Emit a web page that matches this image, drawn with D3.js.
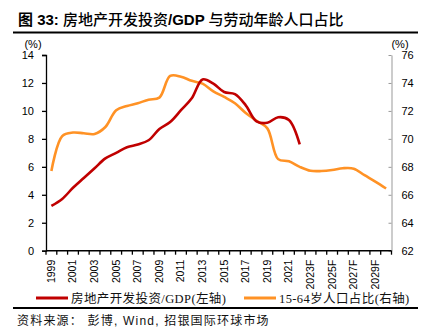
<!DOCTYPE html>
<html>
<head>
<meta charset="utf-8">
<script src="https://cdn.jsdelivr.net/npm/d3@7"></script>
<style>
  body { margin: 0; background: #fff; }
  svg { display: block; font-family: "Liberation Sans", Arial, "Noto Sans CJK SC", sans-serif; }
</style>
</head>
<body>
<svg id="chart" width="433" height="336"></svg>
<script>
// ─── data ───
const years = d3.range(1999, 2031).map(y => y >= 2023 ? y + 'F' : String(y));
const reInvestGdp = [3.2, 3.7, 4.5, 5.2, 5.9, 6.6, 7.0, 7.4, 7.6, 7.9, 8.7, 9.2,
  10.05, 10.9, 12.25, 11.95, 11.35, 11.2, 10.4, 9.25, 9.15, 9.55, 9.35, 7.6];
const workingAge = [67.7, 70.2, 70.45, 70.4, 70.35, 70.85, 72.05, 72.35, 72.55, 72.8, 72.95, 74.5,
  74.45, 74.15, 73.95, 73.4, 73.0, 72.55, 71.85, 71.3, 70.75, 68.55,
  68.4, 68.0, 67.72, 67.7, 67.77, 67.9, 67.87, 67.4, 66.94, 66.45];
const leftTicks = d3.range(0, 15, 2);
const rightTicks = d3.range(62, 77, 2);

const svg = d3.select('#chart');
const m = { l: 46, r: 391.5, t: 55, b: 250.7 };

// ─── header / footer ───
const title = svg.append('text').attr('x', 18).attr('y', 25)
  .attr('font-size', 15)
  .attr('font-family', '"Liberation Sans", "Noto Sans CJK SC", sans-serif');
title.append('tspan').attr('font-weight', 'bold').text('图 33: ');
title.append('tspan').attr('font-weight', 500).text('房地产开发投资');
title.append('tspan').attr('font-weight', 'bold').text('/GDP ');
title.append('tspan').attr('font-weight', 500).text('与劳动年龄人口占比');

svg.append('line').attr('x1', 13).attr('x2', 418).attr('y1', 32.5).attr('y2', 32.5)
  .attr('stroke', '#000').attr('stroke-width', 2);
svg.append('line').attr('x1', 13).attr('x2', 418).attr('y1', 308).attr('y2', 308)
  .attr('stroke', '#000').attr('stroke-width', 2);
svg.append('text').attr('x', 17).attr('y', 325).attr('font-size', 12)
  .attr('letter-spacing', 1.2).attr('fill', '#111')
  .attr('font-family', '"Liberation Sans", "Noto Sans CJK SC", sans-serif')
  .text('资料来源： 彭博, Wind, 招银国际环球市场');

// ─── scales ───
const x = d3.scaleBand().domain(years).range([m.l, m.r]);
const yL = d3.scaleLinear().domain([0, 14]).range([m.b, m.t]);
const yR = d3.scaleLinear().domain([62, 76]).range([m.b, m.t]);

// left axis
const axL = svg.append('g').attr('transform', `translate(${m.l},0)`)
  .call(d3.axisLeft(yL).tickValues(leftTicks).tickSize(4).tickPadding(8));
axL.select('.domain').attr('stroke', '#000').attr('stroke-width', 1.3);
axL.selectAll('.tick line').attr('stroke', '#000').attr('stroke-width', 1.3);
axL.selectAll('text').attr('font-size', 11).attr('fill', '#000')
  .attr('font-family', '"Liberation Sans", Arial, sans-serif');

// right axis
const axR = svg.append('g').attr('transform', `translate(${m.r},0)`)
  .call(d3.axisRight(yR).tickValues(rightTicks).tickSizeInner(-3).tickSizeOuter(0).tickPadding(10));
axR.select('.domain').attr('stroke', '#999');
axR.selectAll('.tick line').attr('stroke', '#999');
axR.selectAll('text').attr('font-size', 11).attr('fill', '#000')
  .attr('font-family', '"Liberation Sans", Arial, sans-serif');

svg.append('text').attr('x', 33).attr('y', 48).attr('text-anchor', 'middle')
  .attr('font-size', 11).text('(%)');
svg.append('text').attr('x', 400).attr('y', 48).attr('text-anchor', 'middle')
  .attr('font-size', 11).text('(%)');

// x axis: ticks on category boundaries
const axX = svg.append('g').attr('transform', `translate(0,${m.b})`);
axX.append('line').attr('x1', m.l).attr('x2', m.r).attr('stroke', '#000').attr('stroke-width', 1.5);
axX.selectAll('line.tk').data(years.concat(['end'])).enter().append('line')
  .attr('class', 'tk')
  .attr('x1', (d, i) => i < years.length ? x(d) : m.r)
  .attr('x2', (d, i) => i < years.length ? x(d) : m.r)
  .attr('y1', 0).attr('y2', 4).attr('stroke', '#000').attr('stroke-width', 1.3);
axX.selectAll('text').data(years.filter((d, i) => i % 2 === 0)).enter().append('text')
  .attr('transform', d => `translate(${x(d) + x.bandwidth() / 2 + 3.5},9) rotate(-90)`)
  .attr('text-anchor', 'end').attr('font-size', 10.5)
  .attr('font-family', '"Liberation Sans", Arial, sans-serif')
  .text(d => d);

// ─── lines ───
const cx = (d, i) => x(years[i]) + x.bandwidth() / 2;
svg.append('path').datum(workingAge)
  .attr('fill', 'none').attr('stroke', '#FF9225').attr('stroke-width', 2.6)
  .attr('d', d3.line().x(cx).y(d => yR(d)).curve(d3.curveCatmullRom.alpha(0.5)));
svg.append('path').datum(reInvestGdp)
  .attr('fill', 'none').attr('stroke', '#C00000').attr('stroke-width', 2.6)
  .attr('d', d3.line().x(cx).y(d => yL(d)).curve(d3.curveCatmullRom.alpha(0.5)));

// ─── legend ───
const legend = [
  { label: '房地产开发投资/GDP(左轴)', color: '#C00000', x: 36 },
  { label: '15-64岁人口占比(右轴)', color: '#FF9225', x: 244 }
];
const lg = svg.selectAll('g.lg').data(legend).enter().append('g')
  .attr('transform', d => `translate(${d.x},298)`);
lg.append('line').attr('x1', 0).attr('x2', 32).attr('stroke', d => d.color).attr('stroke-width', 3);
lg.append('text').attr('x', 35).attr('y', 4.5).attr('font-size', 12.5)
  .attr('letter-spacing', 0.4).attr('fill', '#111')
  .attr('font-family', '"Liberation Serif", "Noto Sans CJK SC", serif')
  .text(d => d.label);
</script>
</body>
</html>
